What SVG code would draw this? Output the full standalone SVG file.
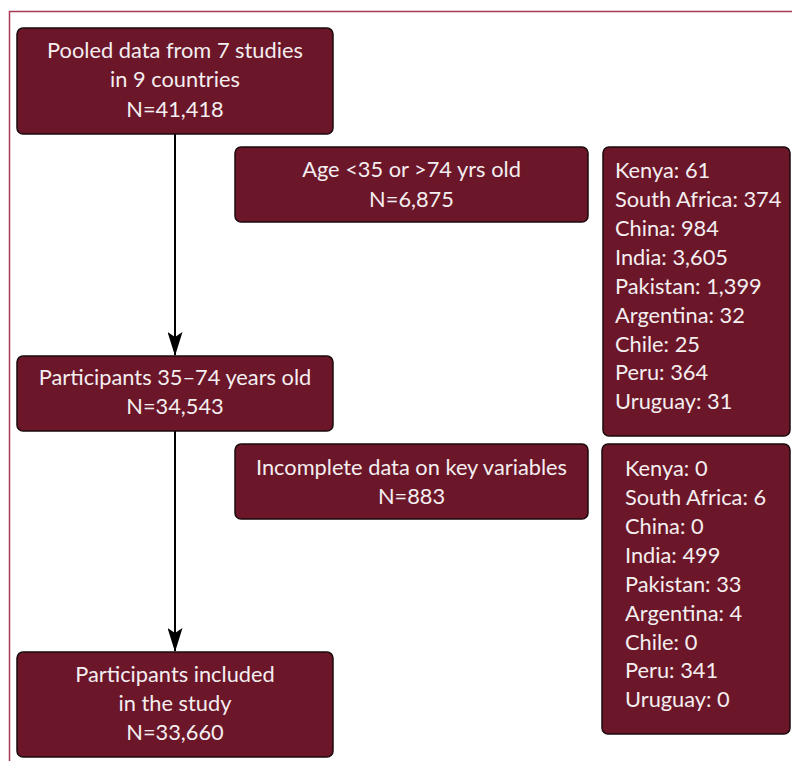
<svg xmlns="http://www.w3.org/2000/svg" width="792" height="761" viewBox="0 0 792 761">
<style>
.box{fill:#6c1629;stroke:#1a0a0d;stroke-width:1.5}
.t{font-family:Lato,"Open Sans",sans-serif;font-size:21.8px;fill:#f4eef0}
.c{text-anchor:middle}
.conn{stroke:#000;stroke-width:2;fill:none}
.frame{stroke:#a83a55;stroke-width:1.5;fill:none}
</style>
<defs>
<marker id="ah" viewBox="0 0 24 15" refX="23" refY="7.5" markerWidth="24" markerHeight="15" markerUnits="userSpaceOnUse" orient="auto">
<path d="M0,0 L24,7.5 L0,15 L5,7.5 Z" fill="#000"/>
</marker>
</defs>
<path class="frame" d="M792,11.5 H9.5 V761"/>
<g id="connectors">
<line class="conn" x1="175" y1="134" x2="175" y2="355" marker-end="url(#ah)"/>
<line class="conn" x1="175" y1="431" x2="175" y2="651" marker-end="url(#ah)"/>
</g>
<g id="pooled">
<rect class="box" x="17" y="28" width="316" height="106" rx="6"/>
<text class="t c" x="175" y="58">Pooled data from 7 studies</text>
<text class="t c" x="175" y="87">in 9 countries</text>
<text class="t c" x="175" y="117">N=41,418</text>
</g>
<g id="age">
<rect class="box" x="235" y="147" width="353" height="75" rx="6"/>
<text class="t c" x="411.5" y="177">Age &lt;35 or &gt;74 yrs old</text>
<text class="t c" x="411.5" y="207">N=6,875</text>
</g>
<g id="age-countries">
<rect class="box" x="603" y="147" width="187" height="289" rx="6"/>
<text class="t" x="615" y="178">Kenya: 61</text>
<text class="t" x="615" y="207">South Africa: 374</text>
<text class="t" x="615" y="236">China: 984</text>
<text class="t" x="615" y="265">India: 3,605</text>
<text class="t" x="615" y="294">Pakistan: 1,399</text>
<text class="t" x="615" y="323">Argentina: 32</text>
<text class="t" x="615" y="352">Chile: 25</text>
<text class="t" x="615" y="380">Peru: 364</text>
<text class="t" x="615" y="409">Uruguay: 31</text>
</g>
<g id="participants">
<rect class="box" x="17" y="356" width="316" height="75" rx="6"/>
<text class="t c" x="175" y="385">Participants 35–74 years old</text>
<text class="t c" x="175" y="414">N=34,543</text>
</g>
<g id="incomplete">
<rect class="box" x="235" y="444" width="353" height="75" rx="6"/>
<text class="t c" x="411.5" y="475">Incomplete data on key variables</text>
<text class="t c" x="411.5" y="504">N=883</text>
</g>
<g id="incomplete-countries">
<rect class="box" x="602" y="444" width="188" height="290" rx="6"/>
<text class="t" x="625" y="476">Kenya: 0</text>
<text class="t" x="625" y="505">South Africa: 6</text>
<text class="t" x="625" y="534">China: 0</text>
<text class="t" x="625" y="563">India: 499</text>
<text class="t" x="625" y="592">Pakistan: 33</text>
<text class="t" x="625" y="621">Argentina: 4</text>
<text class="t" x="625" y="650">Chile: 0</text>
<text class="t" x="625" y="678">Peru: 341</text>
<text class="t" x="625" y="707">Uruguay: 0</text>
</g>
<g id="included">
<rect class="box" x="17" y="652" width="316" height="105" rx="6"/>
<text class="t c" x="175" y="682">Participants included</text>
<text class="t c" x="175" y="711">in the study</text>
<text class="t c" x="175" y="740">N=33,660</text>
</g>
</svg>
